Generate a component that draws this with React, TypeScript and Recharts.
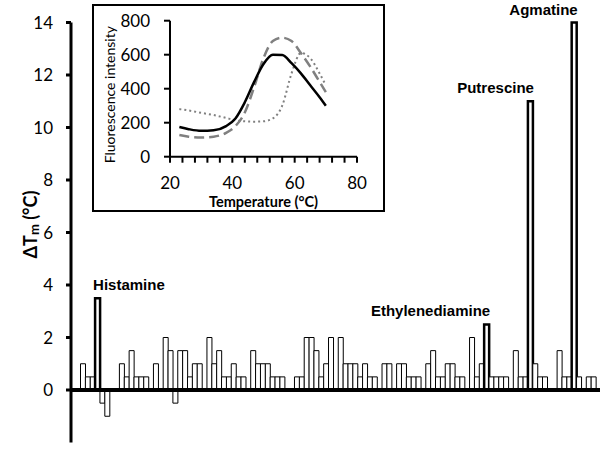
import React from "react";
import {
  BarChart,
  Bar,
  XAxis,
  YAxis,
  ReferenceLine,
  Cell,
  LabelList,
  Label,
  LineChart,
  Line,
} from "recharts";

// ΔTm per screened compound, read left to right
const deltaTm = [
  1, 0.5, 0.5, 3.5, -0.5, -1, 0, 0, 1, 0.5, 1.5, 0.5, 0.5, 0.5, 0, 1, 0, 2, 1.5, -0.5,
  1.5, 1.5, 0.5, 1, 1, 0, 2, 1, 1.5, 0.5, 0.5, 1, 0.5, 0.5, 0, 1.5, 1, 1, 1, 0.5,
  0.5, 0.5, 0, 0, 0.5, 0.5, 2, 2, 1.5, 0.5, 1, 2, 0, 2, 1, 1, 1, 0.5, 1, 0.5,
  0.5, 0, 1, 1, 0, 1, 1, 0.5, 0.5, 0.5, 0, 1, 1.5, 0.5, 0.5, 1, 1, 0.5, 0.5, 0,
  2, 0.5, 1, 2.5, 0.5, 0.5, 0.5, 0.5, 0, 1.5, 0.5, 0.5, 11, 1, 0.5, 0.5, 0, 0, 1.5, 0.5,
  0.5, 14, 0.5, 0, 0.5, 0.5,
];
const hitIndex = [3, 83, 92, 101];
const hitNames = ["Histamine", "Ethylenediamine", "Putrescine", "Agmatine"];
const yTicks = [-2, 0, 2, 4, 6, 8, 10, 12, 14];

// inset melt curves
const temps = [23, 26, 30, 34, 38, 41, 44, 47, 50, 53, 56, 59, 62, 65, 68, 70];
const solidCurve = [175, 162, 152, 155, 180, 225, 320, 440, 545, 600, 598, 550, 490, 420, 350, 300];
const dashedCurve = [128, 118, 113, 118, 140, 180, 260, 410, 580, 680, 700, 680, 610, 530, 440, 380];
const dottedCurve = [280, 272, 258, 245, 228, 214, 208, 206, 208, 225, 300, 490, 610, 580, 490, 420];
const insetXTicks = [20, 24, 28, 32, 36, 40, 44, 48, 52, 56, 60, 64, 68, 72, 76, 80];
const insetYTicks = [0, 200, 400, 600, 800];

const barData = deltaTm.map((v, i) => {
  const k = hitIndex.indexOf(i);
  return { id: i, dtm: v, name: k >= 0 ? hitNames[k] : "" };
});

const insetData = temps.map((t, i) => ({
  t,
  solid: solidCurve[i],
  dashed: dashedCurve[i],
  dotted: dottedCurve[i],
}));

const HitLabel = (props: any) => {
  const { x, y, width, value } = props;
  if (!value) return null;
  const first = value === "Histamine";
  return (
    <text
      x={first ? x - 2 : x + width + 1}
      y={y - 8}
      textAnchor={first ? "start" : "end"}
      fontFamily="Liberation Sans, Arial, sans-serif"
      fontWeight={700}
      fontSize={15}
      fill="#000"
    >
      {value}
    </text>
  );
};

const DtmTitle = (props: any) => {
  const vb = props.viewBox || { x: 0, y: 0, width: 0, height: 0 };
  const cx = vb.x + 30;
  const cy = vb.y + vb.height / 2 - 8;
  return (
    <text
      x={cx}
      y={cy}
      transform={`rotate(-90, ${cx}, ${cy})`}
      textAnchor="middle"
      dominantBaseline="central"
      fontFamily="Lato, sans-serif"
      fontWeight={700}
      fontSize={18}
      fill="#000"
    >
      ΔT
      <tspan fontSize={13} dy={4}>
        m
      </tspan>
      <tspan dy={-4}> (°C)</tspan>
    </text>
  );
};

const FluoTitle = (props: any) => {
  const vb = props.viewBox || { x: 0, y: 0, width: 0, height: 0 };
  const cx = vb.x + 18;
  const cy = vb.y + vb.height / 2 + 6;
  return (
    <text
      x={cx}
      y={cy}
      transform={`rotate(-90, ${cx}, ${cy})`}
      textAnchor="middle"
      dominantBaseline="central"
      fontFamily="Lato, sans-serif"
      fontSize={14}
      fill="#000"
    >
      Fluorescence intensity
    </text>
  );
};

const tickFont = { fontSize: 17, fill: "#000", fontFamily: "Lato, sans-serif" };

export default function App() {
  return (
    <div style={{ position: "absolute", left: 0, top: 0, width: 600, height: 451, background: "#fff" }}>
      <BarChart
        width={600}
        height={451}
        data={barData}
        barCategoryGap={0}
        margin={{ top: 22.5, right: 0, left: 0, bottom: 8.5 }}
      >
        <XAxis dataKey="id" hide padding={{ left: 9.5, right: 4 }} />
        <YAxis
          type="number"
          domain={[-2, 14]}
          ticks={yTicks}
          width={71}
          tickSize={5}
          tickMargin={13}
          axisLine={{ stroke: "#000", strokeWidth: 3 }}
          tickLine={{ stroke: "#000", strokeWidth: 3 }}
          tick={tickFont}
        >
          <Label content={DtmTitle} />
        </YAxis>
        <Bar dataKey="dtm" fill="#fff" stroke="#000" strokeWidth={1} isAnimationActive={false}>
          {barData.map((d) => (
            <Cell key={d.id} strokeWidth={d.name ? 2.5 : 1} />
          ))}
          <LabelList dataKey="name" content={HitLabel} />
        </Bar>
        <ReferenceLine y={0} stroke="#000" strokeWidth={4} />
      </BarChart>

      <div style={{ position: "absolute", left: 92, top: 4, width: 293, height: 208, background: "#fff" }}>
        <LineChart
          width={293}
          height={208}
          data={insetData}
          margin={{ top: 16.7, right: 28, left: 0, bottom: 0 }}
        >
          <XAxis
            type="number"
            dataKey="t"
            domain={[20, 80]}
            ticks={insetXTicks}
            interval={0}
            tickFormatter={(v: number) => (v % 20 === 0 ? String(v) : "")}
            height={55.3}
            tickSize={6}
            tickMargin={14}
            axisLine={{ stroke: "#000", strokeWidth: 2 }}
            tickLine={{ stroke: "#000", strokeWidth: 2 }}
            tick={tickFont}
          >
            <Label
              value="Temperature (°C)"
              position="insideBottom"
              offset={5}
              style={{ fontWeight: 700, fontSize: 14.5, fontFamily: "Lato, sans-serif", fill: "#000" }}
            />
          </XAxis>
          <YAxis
            type="number"
            domain={[0, 800]}
            ticks={insetYTicks}
            interval={0}
            width={78}
            tickSize={6}
            tickMargin={14}
            axisLine={{ stroke: "#000", strokeWidth: 2 }}
            tickLine={{ stroke: "#000", strokeWidth: 2 }}
            tick={tickFont}
          >
            <Label content={FluoTitle} />
          </YAxis>
          <Line type="monotone" dataKey="dotted" stroke="#808080" strokeWidth={2} strokeDasharray="2 3" dot={false} isAnimationActive={false} />
          <Line type="monotone" dataKey="dashed" stroke="#808080" strokeWidth={2.5} strokeDasharray="10 5" dot={false} isAnimationActive={false} />
          <Line type="monotone" dataKey="solid" stroke="#000" strokeWidth={2.5} dot={false} isAnimationActive={false} />
        </LineChart>
        <div
          style={{
            position: "absolute",
            left: 0,
            top: 0,
            width: 293,
            height: 208,
            border: "2px solid #000",
            boxSizing: "border-box",
            pointerEvents: "none",
          }}
        />
      </div>
    </div>
  );
}
